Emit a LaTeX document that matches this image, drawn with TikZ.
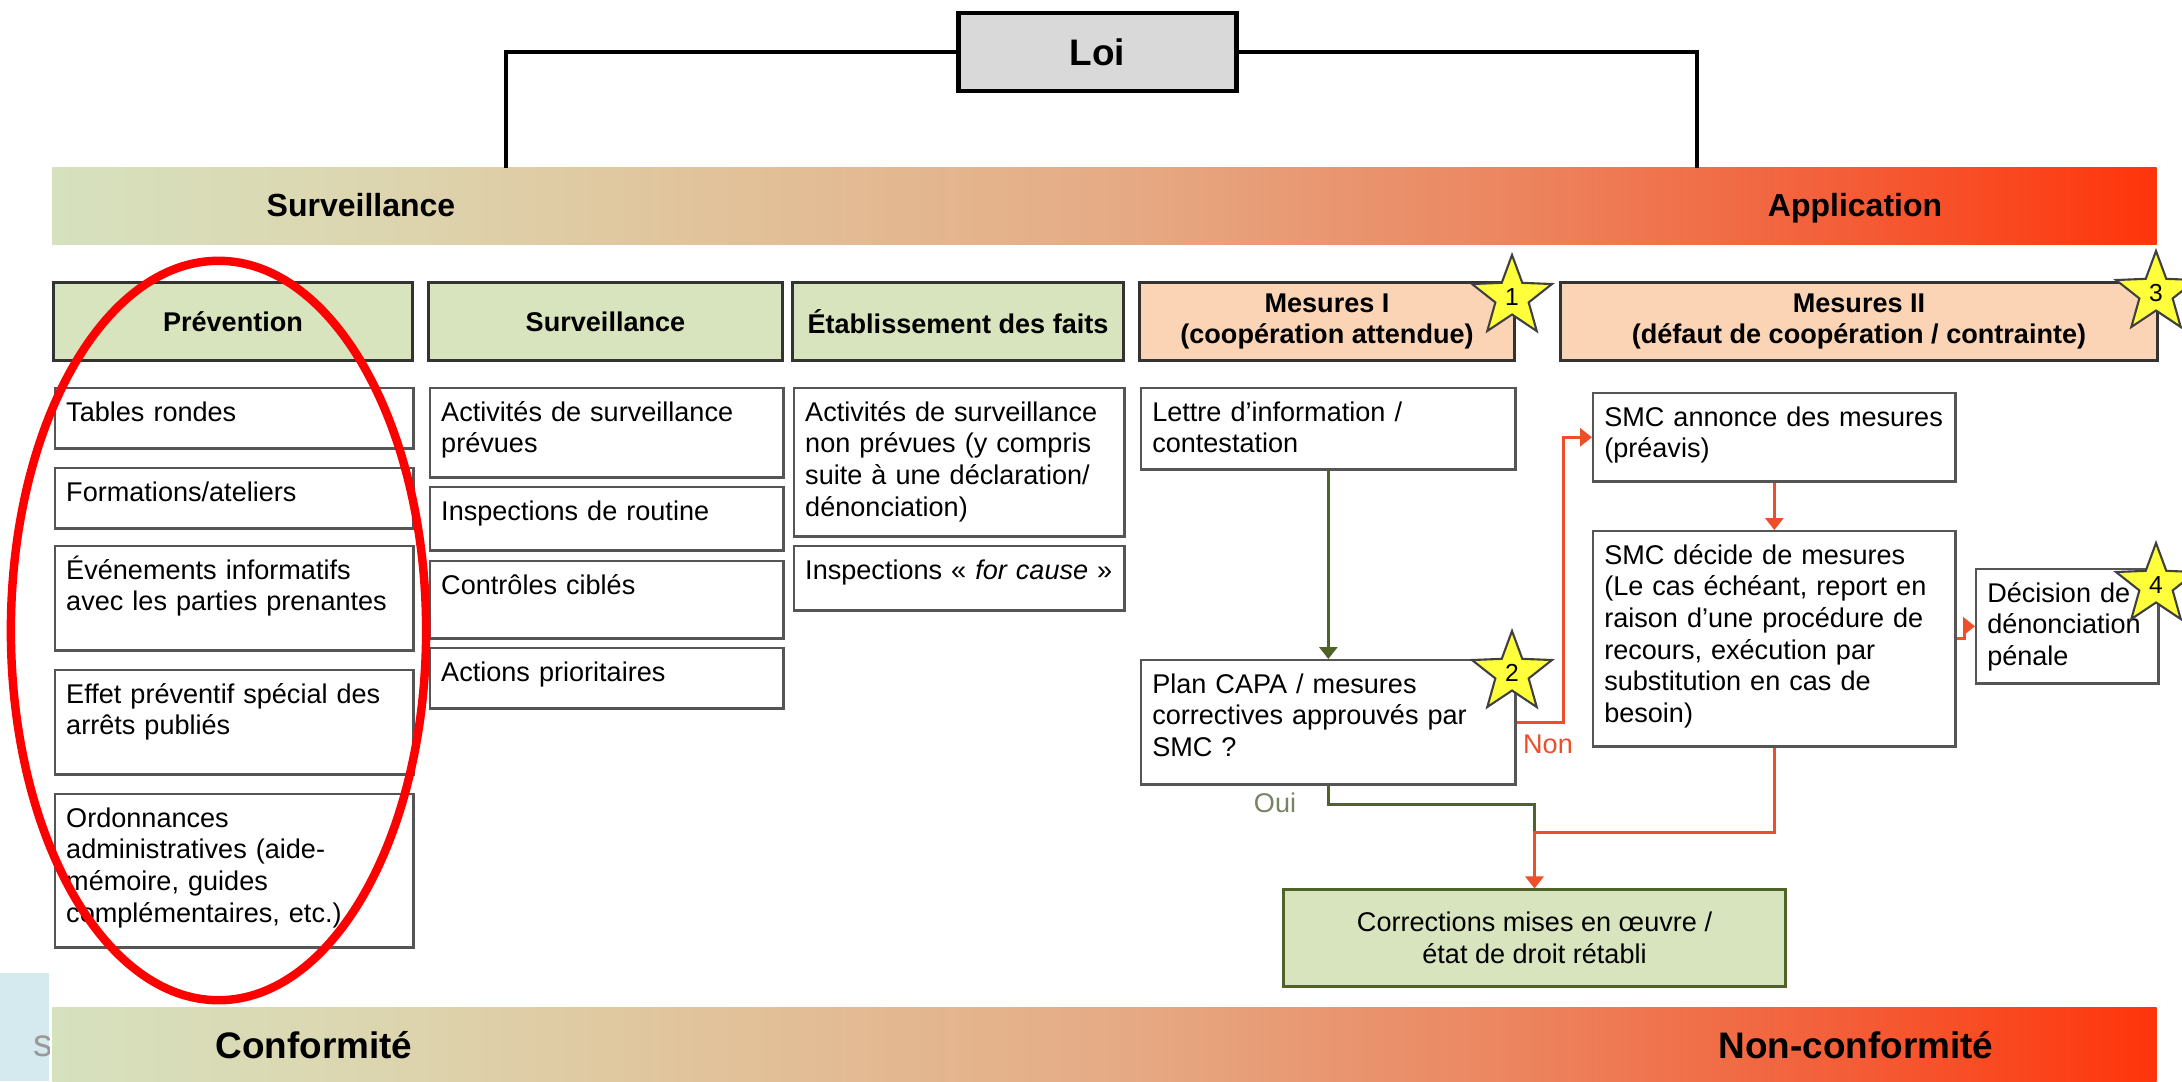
\documentclass[tikz,border=0pt]{standalone}
\usepackage{fontspec}
\setmainfont{Liberation Sans}
\usetikzlibrary{shapes.geometric,arrows.meta}

\definecolor{hdrgreen}{RGB}{215,228,189}
\definecolor{hdrpeach}{RGB}{251,212,181}
\definecolor{loigray}{RGB}{217,217,217}
\definecolor{framegray}{RGB}{85,85,85}
\definecolor{okgreen}{RGB}{79,98,40}
\definecolor{nored}{RGB}{238,78,42}
\definecolor{ouigray}{RGB}{120,130,100}
\definecolor{stary}{RGB}{255,255,60}
\definecolor{slideblue}{RGB}{212,234,238}
\definecolor{bar0}{RGB}{214,225,190}
\definecolor{bar1}{RGB}{220,214,176}
\definecolor{bar2}{RGB}{225,196,156}
\definecolor{bar3}{RGB}{229,172,134}
\definecolor{bar4}{RGB}{236,132,94}
\definecolor{bar5}{RGB}{243,94,56}
\definecolor{bar6}{RGB}{255,52,10}

\pgfdeclarehorizontalshading{lawbar}{100bp}{color(0bp)=(bar0); color(25bp)=(bar0);
  color(32.5bp)=(bar1); color(40bp)=(bar2); color(50bp)=(bar3); color(60bp)=(bar4);
  color(67.5bp)=(bar5); color(75bp)=(bar6); color(100bp)=(bar6)}

\newcommand{\boxfont}{\fontsize{7.7}{9}\selectfont}

\tikzset{
  hdr/.style={draw=black!80, line width=0.85pt, minimum height=0.77cm, inner sep=0pt,
    align=center, font=\boxfont\bfseries},
  itm/.style 2 args={draw=framegray, line width=0.7pt, fill=white, anchor=north west,
    inner sep=0.11cm, text width=#1, text height=0.22cm, text depth=#2, align=left,
    font=\boxfont},
  bar/.style={shade, shading=lawbar, minimum width=21.03cm, minimum height=0.76cm, inner sep=0pt},
  bartext/.style={anchor=base, font=\fontsize{9.1}{11}\selectfont\bfseries},
  bigtext/.style={font=\fontsize{10.5}{12}\selectfont\bfseries},
  starmark/.style={star, star points=5, star point ratio=2.4, draw=black!75, line width=0.6pt,
    fill=stary, minimum size=0.84cm, inner sep=0pt, font=\fontsize{7}{8}\selectfont},
  law/.style={line width=1.1pt},
  okline/.style={draw=okgreen, line width=0.85pt},
  noline/.style={draw=nored, line width=0.85pt},
  okarrow/.style={-{Triangle[length=0.12cm,width=0.18cm]}},
}

\begin{document}
\begin{tikzpicture}[x=0.01cm,y=-0.01cm]
\useasboundingbox (0,0) rectangle (2182,1081);

\fill[slideblue] (0,973) rectangle (49,1081);
\begin{scope}
  \clip (0,973) rectangle (49,1081);
  \node[anchor=west, inner sep=0pt, text=black!40, font=\fontsize{11}{12}\selectfont] (slidetxt) at (33,1046) {s};
\end{scope}

\node[bar] (topbar) at (1104.5,206) {};
\node[bar, minimum height=0.9cm] (botbar) at (1104.5,1053) {};
\node[bartext] (survl) at (361,216) {Surveillance};
\node[bartext] (appl) at (1855,216) {Application};
\node[bigtext, anchor=base] (conf) at (314,1058) {Conformité};
\node[bigtext, anchor=base] (nonconf) at (1856,1058) {Non-conformité};

\node[draw, line width=1.3pt, fill=loigray, minimum width=2.78cm, minimum height=0.78cm,
  bigtext] (loi) at (1097.5,52) {Loi};
\coordinate (survtop) at (506,168);
\coordinate (apptop) at (1697,168);
\draw[law] (loi.west) -| (survtop);
\draw[law] (loi.east) -| (apptop);

\node[hdr, fill=hdrgreen, minimum width=3.58cm] (prev) at (233,321.5) {Prévention};
\node[hdr, fill=hdrgreen, minimum width=3.53cm] (surv) at (605.5,321.5) {Surveillance};
\node[hdr, fill=hdrgreen, minimum width=3.30cm] (etab) at (958,321.5) {Établissement des faits};
\node[hdr, fill=hdrpeach, minimum width=3.74cm] (mes1) at (1327,321.5) {Mesures I\\(coopération attendue)};
\node[hdr, fill=hdrpeach, minimum width=5.96cm] (mes2) at (1859,321.5) {Mesures II\\(défaut de coopération / contrainte)};

\node[itm={3.36cm}{0.16cm}] (tab) at (54,387) {Tables rondes};
\node[itm={3.36cm}{0.16cm}] (form) at (54,467) {Formations/ateliers};
\node[itm={3.36cm}{0.60cm}] (even) at (54,545) {Événements informatifs\\avec les parties prenantes};
\node[itm={3.36cm}{0.60cm}] (effet) at (54,669) {Effet préventif spécial des\\arrêts publiés};
\node[itm={3.36cm}{1.09cm}] (ordo) at (54,793) {Ordonnances\\administratives (aide-\\mémoire, guides\\complémentaires, etc.)};

\node[itm={3.31cm}{0.45cm}] (actp) at (429,387) {Activités de surveillance\\prévues};
\node[itm={3.31cm}{0.19cm}] (rout) at (429,486) {Inspections de routine};
\node[itm={3.31cm}{0.33cm}] (cibl) at (429,560) {Contrôles ciblés};
\node[itm={3.31cm}{0.16cm}] (prio) at (429,647) {Actions prioritaires};

\node[itm={3.08cm}{1.04cm}] (actnp) at (793,387) {Activités de surveillance\\non prévues (y compris\\suite à une déclaration/\\dénonciation)};
\node[itm={3.08cm}{0.20cm}] (cause) at (793,545) {Inspections «~\textit{for cause}~»};

\node[itm={3.52cm}{0.37cm}] (lettre) at (1140,387) {Lettre d’information /\\contestation};
\node[itm={3.52cm}{0.80cm}] (capa) at (1140,659) {Plan CAPA / mesures\\correctives approuvés par\\SMC ?};

\node[itm={3.40cm}{0.44cm}] (annonce) at (1592,392) {SMC annonce des mesures\\(préavis)};
\node[itm={3.40cm}{1.71cm}] (decide) at (1592,530) {SMC décide de mesures\\(Le cas échéant, report en\\raison d’une procédure de\\recours, exécution par\\substitution en cas de\\besoin)};
\node[itm={1.60cm}{0.70cm}] (denon) at (1975,568) {Décision de\\dénonciation\\pénale};

\node[draw=okgreen, line width=0.85pt, fill=hdrgreen, minimum width=5.01cm, minimum height=0.96cm,
  align=center, font=\boxfont] (corr) at (1534.5,938) {Corrections mises en œuvre /\\état de droit rétabli};

\draw[okline, okarrow] (lettre.south) -- (capa.north);
\draw[noline, okarrow] (capa.east) -- ++(47,0) |- (annonce.west);
\node[text=nored, font=\boxfont] (non) at (1548,744) {Non};
\draw[noline, okarrow] (annonce.south) -- (decide.north);
\draw[noline, okarrow] (decide.east) -- ++(8,0) |- (denon.west);
\coordinate (join) at (1534.5,832);
\draw[okline] (capa.south) -- ++(0,19) -| (join);
\draw[noline, okarrow] (decide.south) |- (join) -- (corr.north);
\node[text=ouigray, font=\boxfont] (oui) at (1275,803) {Oui};

\node[starmark] (st1) at (1512,297) {1};
\node[starmark] (st2) at (1512,673) {2};
\node[starmark] (st3) at (2156,293) {3};
\node[starmark] (st4) at (2156,585) {4};

\draw[red, line width=2.4pt] (218.5,630.5) ellipse [x radius=2.075cm, y radius=3.695cm];
\end{tikzpicture}
\end{document}
